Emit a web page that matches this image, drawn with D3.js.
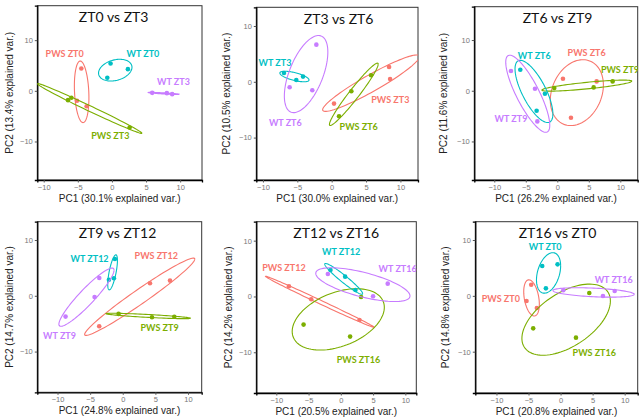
<!DOCTYPE html>
<html>
<head>
<meta charset="utf-8">
<script src="https://cdnjs.cloudflare.com/ajax/libs/d3/7.8.5/d3.min.js"></script>
<style>
  body { margin: 0; background: #fff; }
  svg { display: block; }
</style>
</head>
<body>
<svg id="chart" width="639" height="418"></svg>
<script>
// chart values
const titles = ["ZT0 vs ZT3", "ZT3 vs ZT6", "ZT6 vs ZT9", "ZT9 vs ZT12", "ZT12 vs ZT16", "ZT16 vs ZT0"]
const pc1Var = ["30.1", "30.0", "26.2", "24.8", "20.5", "20.8"]
const pc2Var = ["13.4", "10.5", "11.6", "14.7", "14.2", "14.8"]
const xTicks = [-10, -5, 0, 5, 10]
const yTicks = [-10, 0, 10]

// group names per panel, order = PWS a, PWS b, WT a, WT b
const groupNames = [
    ["PWS ZT0", "PWS ZT3", "WT ZT0", "WT ZT3"],
    ["PWS ZT3", "PWS ZT6", "WT ZT3", "WT ZT6"],
    ["PWS ZT6", "PWS ZT9", "WT ZT6", "WT ZT9"],
    ["PWS ZT12", "PWS ZT9", "WT ZT12", "WT ZT9"],
    ["PWS ZT12", "PWS ZT16", "WT ZT12", "WT ZT16"],
    ["PWS ZT0", "PWS ZT16", "WT ZT0", "WT ZT16"]
]

// PC1/PC2 scores per panel, per group
const scores = [
    [[[-4.49, 4.41], [-5.12, -1.97], [-3.71, -3.03]],
     [[-6.44, -1.84], [-5.95, -1.38], [2.59, -7.24]],
     [[-0.2, 5.39], [-0.68, 2.57], [2.34, 4.28]],
     [[5.9, -0.4], [8.05, -0.46], [8.83, -0.66]]],
    [[[0.34, -3.91], [8.35, 2.66], [8.5, 0.51]],
     [[1.07, -6.18], [2.86, -1.7], [5.73, 1.16]],
     [[-6.94, 1.58], [-5.15, 0.33], [-4.17, 0.93]],
     [[-6.12, -0.99], [-2.82, -1.52], [-2.23, 6.66]]],
    [[[0.9, 2.37], [6.24, 1.84], [2.17, -5.33]],
     [[-0.48, 0.53], [5.77, 0.66], [8.78, 1.84]],
     [[-5.87, 4.14], [-1.96, -0.59], [-3.28, -3.95]],
     [[-7.35, 3.88], [-3.54, 0.39], [-3.17, -6.05]]],
    [[[-3.61, -5.46], [4.17, 2.24], [7.24, 2.72]],
     [[-0.64, -3.25], [4.48, -3.85], [7.9, -3.75]],
     [[-2.12, 2.88], [-1.36, 3.13], [-1.2, 6.6]],
     [[-8.77, -3.73], [-4.32, -0.21], [-3.6, 3.19]]],
    [[[-8.04, 1.82], [-4.59, -0.51], [2.89, -4.21]],
     [[-5.77, -5.04], [1.44, -7.19], [3.14, -0.09]],
     [[-1.6, 4.75], [0.67, 3.55], [2.27, 1.16]],
     [[-2.01, 4.03], [5.0, 0.03], [7.27, 2.3]]],
    [[[-4.58, 2.0], [-5.31, -0.93], [-3.7, -2.18]],
     [[-4.27, -5.82], [2.4, -7.49], [4.48, 0.51]],
     [[-2.86, 5.34], [-2.29, 1.34], [-0.47, 5.64]],
     [[0.42, 0.99], [6.61, -0.03], [8.44, 0.87]]]
]

// where each group name is written, in PC units
const labelAt = [
    [[-6.93, 7.37], [-0.24, -8.88], [4.54, 7.37], [9.02, 1.71]],
    [[8.54, -3.25], [3.93, -8.09], [-8.25, 3.43], [-6.75, -7.31]],
    [[4.66, 7.5], [9.95, 4.08], [-3.65, 6.91], [-7.35, -5.46]],
    [[5.14, 7.19], [5.65, -5.76], [-5.09, 6.6], [-9.69, -7.19]],
    [[-8.81, 5.04], [2.73, -11.37], [0.05, 7.91], [8.81, 4.93]],
    [[-9.32, -0.45], [5.26, -10.24], [-2.4, 8.81], [8.28, 2.9]]
]

const colors = ["#F8766D", "#7CAE00", "#00BFC4", "#C77CFF"]

// panel boxes on the page and the visible PC ranges
const frames = [
    { x0: 37.3, y0: 5.7, x1: 202, y1: 180, xd: [-10.94, 13.2], yd: [-17.6, 16.8], yl: 24.5, tx: -6 },
    { x0: 256.3, y0: 7.3, x1: 418, y1: 180, xd: [-10.97, 12.56], yd: [-17.6, 13.35], yl: 26.5, tx: 1.5 },
    { x0: 474.3, y0: 6.7, x1: 637.7, y1: 180, xd: [-13.17, 12.76], yd: [-17.6, 16.57], yl: 27.5, tx: 1.5 },
    { x0: 37.3, y0: 221.7, x1: 201.7, y1: 392.3, xd: [-13.1, 12.1], yd: [-17.3, 13.28], yl: 24, tx: -2 },
    { x0: 256.3, y0: 221.7, x1: 416.3, y1: 393, xd: [-13.1, 11.7], yd: [-17.3, 13.4], yl: 24, tx: 0 },
    { x0: 475.3, y0: 221.7, x1: 637.7, y1: 393, xd: [-13.3, 12.03], yd: [-17.4, 13.28], yl: 26, tx: 1 }
]

const ellipseProb = 0.68
const ed = Math.sqrt(-2 * Math.log(1 - ellipseProb))

// normal data ellipse like ggbiplot: mu + circle %*% chol(sigma) * ed
function ellipsePoints(pts) {
    var n = pts.length
    var mx = d3.mean(pts, p => p[0])
    var my = d3.mean(pts, p => p[1])
    var sxx = d3.sum(pts, p => (p[0] - mx) * (p[0] - mx)) / (n - 1)
    var syy = d3.sum(pts, p => (p[1] - my) * (p[1] - my)) / (n - 1)
    var sxy = d3.sum(pts, p => (p[0] - mx) * (p[1] - my)) / (n - 1)
    var a = Math.sqrt(sxx)
    var b = sxy / a
    var c = Math.sqrt(Math.max(syy - b * b, 0))
    var out = []
    for (var i = 0; i <= 100; i++) {
        var t = 2 * Math.PI * i / 100
        out.push([mx + ed * Math.cos(t) * a, my + ed * (Math.cos(t) * b + Math.sin(t) * c)])
    }
    return out
}

var svg = d3.select("#chart")

frames.forEach(function (f, i) {
    var xScale = d3.scaleLinear().domain(f.xd).range([f.x0, f.x1])
    var yScale = d3.scaleLinear().domain(f.yd).range([f.y1, f.y0])
    var g = svg.append("g")

    g.append("clipPath").attr("id", "clip" + i)
        .append("rect")
        .attr("x", f.x0).attr("y", f.y0)
        .attr("width", f.x1 - f.x0).attr("height", f.y1 - f.y0)

    // frame
    g.append("rect")
        .attr("x", f.x0).attr("y", f.y0)
        .attr("width", f.x1 - f.x0).attr("height", f.y1 - f.y0)
        .attr("fill", "none").attr("stroke", "#333").attr("stroke-width", 1)

    // axes
    var xAxis = d3.axisBottom(xScale).tickValues(xTicks).tickSize(2.5).tickPadding(2)
        .tickFormat(d => d < 0 ? "\u2212" + Math.abs(d) : d)
    var yAxis = d3.axisLeft(yScale).tickValues(yTicks).tickSize(2.5).tickPadding(2)
        .tickFormat(d => d < 0 ? "\u2212" + Math.abs(d) : d)
    var xg = g.append("g").attr("transform", `translate(0, ${f.y1})`).call(xAxis)
    var yg = g.append("g").attr("transform", `translate(${f.x0}, 0)`).call(yAxis)
    ;[xg, yg].forEach(function (ag) {
        ag.select(".domain").attr("stroke", "#000").attr("stroke-width", 1.3)
        ag.selectAll(".tick line").attr("stroke", "#555")
        ag.selectAll(".tick text").attr("fill", "#777").style("font-family", "Liberation Sans, Arial, sans-serif").style("font-size", "7.5px")
    })

    // axis titles
    g.append("text")
        .attr("x", (f.x0 + f.x1) / 2).attr("y", f.y1 + 22)
        .attr("text-anchor", "middle")
        .style("font-family", "Liberation Sans, Arial, sans-serif").style("font-size", "10px")
        .attr("fill", "#222")
        .text(`PC1 (${pc1Var[i]}% explained var.)`)
    g.append("text")
        .attr("transform", `translate(${f.x0 - f.yl}, ${(f.y0 + f.y1) / 2}) rotate(-90)`)
        .attr("text-anchor", "middle")
        .style("font-family", "Liberation Sans, Arial, sans-serif").style("font-size", "10px")
        .attr("fill", "#222")
        .text(`PC2 (${pc2Var[i]}% explained var.)`)

    // title
    g.append("text")
        .attr("x", (f.x0 + f.x1) / 2 + f.tx).attr("y", f.y0 + 16.5)
        .attr("text-anchor", "middle")
        .style("font-family", "Lato, sans-serif").style("font-size", "14px")
        .attr("fill", "#111")
        .text(titles[i])

    var plotG = g.append("g").attr("clip-path", `url(#clip${i})`)
    var line = d3.line().x(d => xScale(d[0])).y(d => yScale(d[1]))

    scores[i].forEach(function (pts, k) {
        plotG.append("path")
            .attr("d", line(ellipsePoints(pts)))
            .attr("fill", "none")
            .attr("stroke", colors[k])
            .attr("stroke-width", 1.1)
        plotG.selectAll(null).data(pts).enter().append("circle")
            .attr("cx", d => xScale(d[0]))
            .attr("cy", d => yScale(d[1]))
            .attr("r", 2.3)
            .attr("fill", colors[k])
        plotG.append("text")
            .attr("x", xScale(labelAt[i][k][0]))
            .attr("y", yScale(labelAt[i][k][1]))
            .attr("dy", "0.35em")
            .attr("text-anchor", "middle")
            .style("font-family", "Lato, sans-serif").style("font-size", "9px").style("font-weight", "bold")
            .attr("fill", colors[k])
            .text(groupNames[i][k])
    })
})
</script>
</body>
</html>
